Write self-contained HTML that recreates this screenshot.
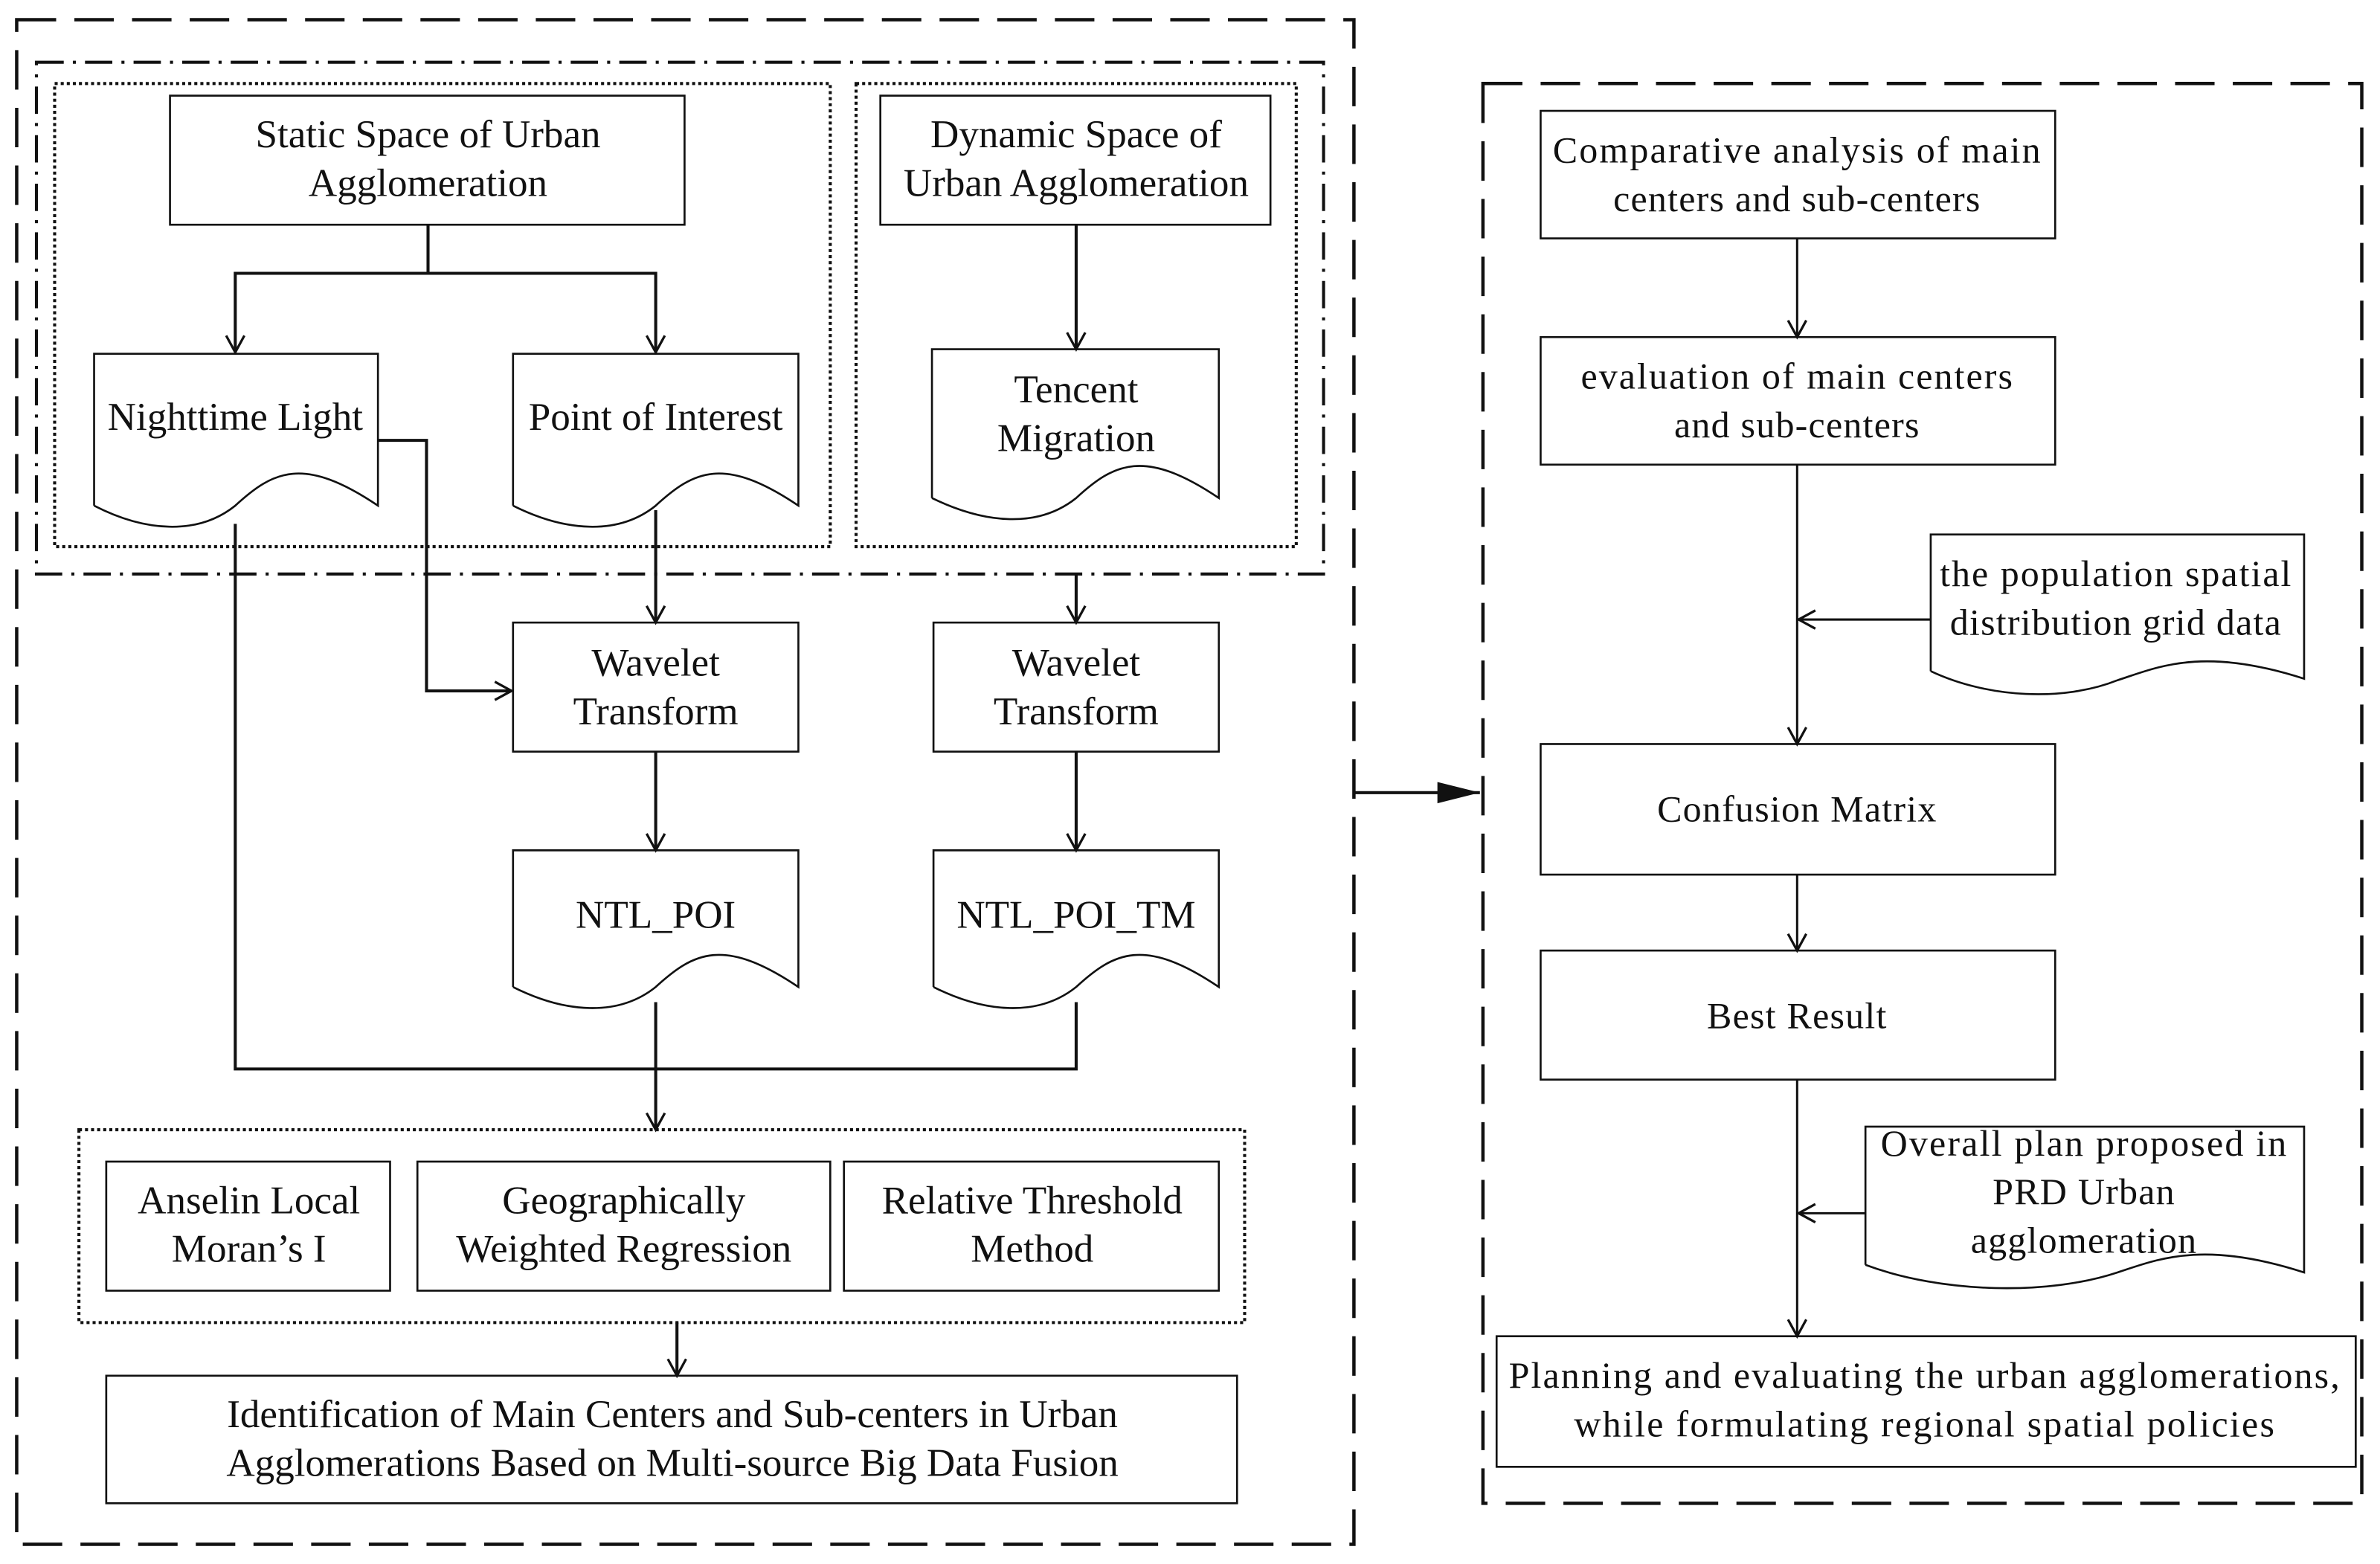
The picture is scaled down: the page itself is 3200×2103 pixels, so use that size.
<!DOCTYPE html>
<html><head><meta charset="utf-8"><style>
html,body{margin:0;padding:0;background:#fff;}
svg{display:block;}
text{font-family:"Liberation Serif",serif;font-size:26px;fill:#111;text-anchor:middle;}
.r text{font-size:24.5px;letter-spacing:0.6px;}
</style></head><body>
<svg width="3200" height="2103" viewBox="0 0 1568 1030" preserveAspectRatio="none" xmlns="http://www.w3.org/2000/svg">
<defs>
<marker id="a" markerWidth="14" markerHeight="14" refX="12" refY="7" orient="auto" markerUnits="userSpaceOnUse">
<path d="M1,1 L12,7 L1,13" fill="none" stroke="#111" stroke-width="1.6"/></marker>
<marker id="f" markerWidth="30" markerHeight="20" refX="28" refY="10" orient="auto" markerUnits="userSpaceOnUse">
<path d="M0,3 L28,10 L0,17 Z" fill="#111"/></marker>
</defs>
<g fill="none" stroke="#111">
<rect x="11" y="13" width="881" height="1004" stroke-width="2.2" stroke-dasharray="26,12"/>
<rect x="977" y="55" width="579" height="935" stroke-width="2.2" stroke-dasharray="26,12"/>
<rect x="24" y="41" width="848" height="337" stroke-width="2" stroke-dasharray="18,6,2,6"/>
<rect x="36" y="55" width="511" height="305" stroke-width="2" stroke-dasharray="2,2"/>
<rect x="564" y="55" width="290" height="305" stroke-width="2" stroke-dasharray="2,2"/>
<rect x="52" y="744" width="768" height="127" stroke-width="2" stroke-dasharray="2,2"/>
<g stroke-width="1.3">
<rect x="112" y="63" width="339" height="85"/>
<rect x="580" y="63" width="257" height="85"/>
<rect x="338" y="410" width="188" height="85"/>
<rect x="615" y="410" width="188" height="85"/>
<rect x="70" y="765" width="187" height="85"/>
<rect x="275" y="765" width="272" height="85"/>
<rect x="556" y="765" width="247" height="85"/>
<rect x="70" y="906" width="745" height="84"/>
<rect x="1015" y="73" width="339" height="84"/>
<rect x="1015" y="222" width="339" height="84"/>
<rect x="1015" y="490" width="339" height="86"/>
<rect x="1015" y="626" width="339" height="85"/>
<rect x="986" y="880" width="566" height="86"/>
<path d="M62,333 V233 H249 V333 C200,300 180,310 155,333 C130,353 95,350 62,333"/>
<path d="M338,333 V233 H526 V333 C477,300 457,310 432,333 C407,353 372,350 338,333"/>
<path d="M614,328 V230 H803 V328 C754,295 734,305 709,328 C684,348 649,345 614,328"/>
<path d="M338,650 V560 H526 V650 C477,617 457,627 432,650 C407,670 372,667 338,650"/>
<path d="M615,650 V560 H803 V650 C754,617 734,627 709,650 C684,670 649,667 615,650"/>
<path d="M1272,442 V352 H1518 V447 C1450,425 1420,440 1395,448 C1360,462 1310,460 1272,442"/>
<path d="M1229,833 V742 H1518 V838 C1450,816 1420,830 1395,838 C1350,853 1280,852 1229,833"/>
</g>
<g stroke-width="2">
<path d="M282,148 V180 H155 V232" marker-end="url(#a)"/>
<path d="M282,180 H432 V232" marker-end="url(#a)"/>
<path d="M709,148 V230" marker-end="url(#a)"/>
<path d="M249,290 H281 V455 H337" marker-end="url(#a)"/>
<path d="M432,336 V410" marker-end="url(#a)"/>
<path d="M709,378 V410" marker-end="url(#a)"/>
<path d="M432,495 V560" marker-end="url(#a)"/>
<path d="M709,495 V560" marker-end="url(#a)"/>
<path d="M155,345 V704 H709 V660"/>
<path d="M432,660 V744" marker-end="url(#a)"/>
<path d="M446,871 V906" marker-end="url(#a)"/>
<path d="M892,522 H975" marker-end="url(#f)"/>
</g>
<g stroke-width="1.5">
<path d="M1184,157 V222" marker-end="url(#a)"/>
<path d="M1184,306 V490" marker-end="url(#a)"/>
<path d="M1272,408 H1185" marker-end="url(#a)"/>
<path d="M1184,576 V626" marker-end="url(#a)"/>
<path d="M1184,711 V880" marker-end="url(#a)"/>
<path d="M1229,799 H1185" marker-end="url(#a)"/>
</g>
</g>
<g>
<text x="282" y="97">Static Space of Urban</text>
<text x="282" y="129">Agglomeration</text>
<text x="709" y="97">Dynamic Space of</text>
<text x="709" y="129">Urban Agglomeration</text>
<text x="155" y="283">Nighttime Light</text>
<text x="432" y="283">Point of Interest</text>
<text x="709" y="265">Tencent</text>
<text x="709" y="297">Migration</text>
<text x="432" y="445">Wavelet</text>
<text x="432" y="477">Transform</text>
<text x="709" y="445">Wavelet</text>
<text x="709" y="477">Transform</text>
<text x="432" y="611">NTL_POI</text>
<text x="709" y="611">NTL_POI_TM</text>
<text x="164" y="799">Anselin Local</text>
<text x="164" y="831">Moran’s I</text>
<text x="411" y="799">Geographically</text>
<text x="411" y="831">Weighted Regression</text>
<text x="680" y="799">Relative Threshold</text>
<text x="680" y="831">Method</text>
<text x="443" y="940">Identification of Main Centers and Sub-centers in Urban</text>
<text x="443" y="972">Agglomerations Based on Multi-source Big Data Fusion</text>
</g>
<g class="r">
<text x="1184" y="107" textLength="322">Comparative analysis of main</text>
<text x="1184" y="139">centers and sub-centers</text>
<text x="1184" y="256" textLength="285">evaluation of main centers</text>
<text x="1184" y="288">and sub-centers</text>
<text x="1394" y="386" textLength="232">the population spatial</text>
<text x="1394" y="418">distribution grid data</text>
<text x="1184" y="541">Confusion Matrix</text>
<text x="1184" y="677">Best Result</text>
<text x="1373" y="761" textLength="268">Overall plan proposed in</text>
<text x="1373" y="793">PRD Urban</text>
<text x="1373" y="825">agglomeration</text>
<text x="1268" y="914" textLength="548">Planning and evaluating the urban agglomerations,</text>
<text x="1268" y="946" textLength="462">while formulating  regional spatial  policies</text>
</g>
</svg>
</body></html>
